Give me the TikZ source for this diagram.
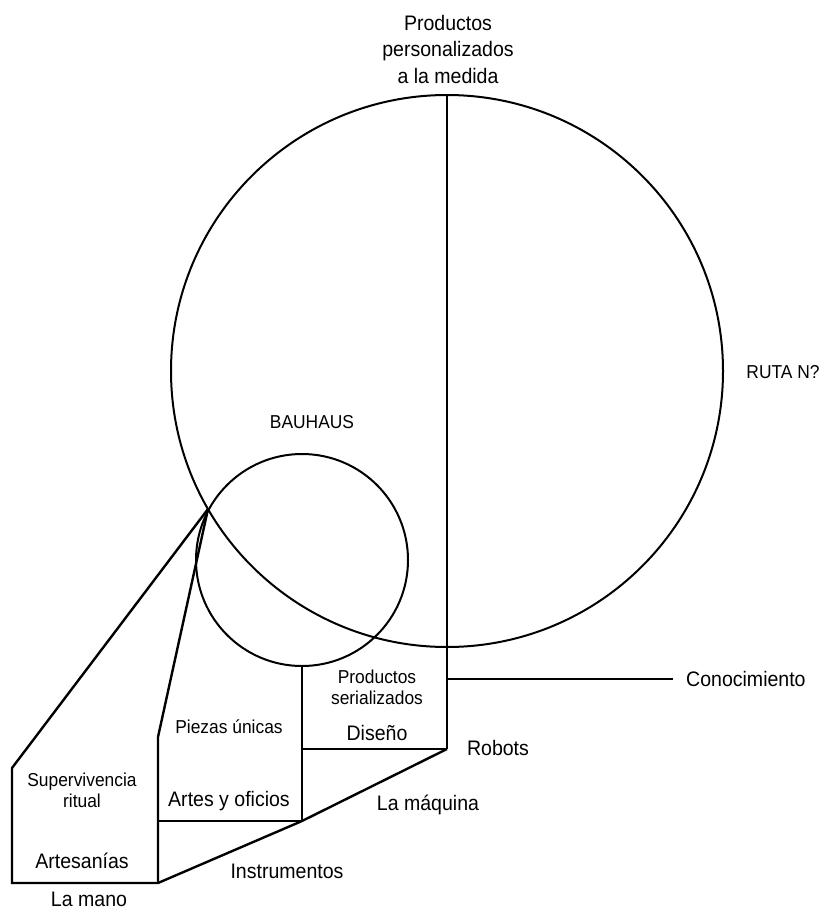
\documentclass[tikz,border=0pt]{standalone}
\usepackage{fontspec}
\setmainfont{Liberation Sans}[FakeStretch=0.93]
\usetikzlibrary{positioning}

\begin{document}
\begin{tikzpicture}[x=1pt,y=-1pt,line width=2.4pt,line join=miter,
  lbl/.style={inner sep=0pt,align=center,font=\fontsize{21}{26.5}\selectfont},
  lblsmall/.style={inner sep=0pt,align=center,font=\fontsize{18.7}{21}\selectfont},
  ring/.style={draw,circle,inner sep=0pt,outer sep=0pt,line width=2pt}]
  \useasboundingbox (0,0) rectangle (822,911);
  % the two circles
  \node[ring,minimum size=552pt] (ruta) at (447,371) {};
  \node[ring,minimum size=212pt] (bauhaus) at (302,560) {};
  % corners of the lower frame
  \node[coordinate] (cross) at (208,509) {};
  \node[coordinate] (ritualtop) at (12,768) {};
  \node[coordinate] (handL) at (12,883) {};
  \node[coordinate] (handR) at (158,883) {};
  \node[coordinate] (uniquetop) at (158,737) {};
  \node[coordinate] (craftL) at (158,821) {};
  \node[coordinate] (craftR) at (302,821) {};
  \node[coordinate] (designL) at (302,749) {};
  \node[coordinate] (robotcorner) at (447,749) {};
  \node[coordinate] (know) at (447,679) {};
  % labels
  \node[lbl] (medida) at (448,49) {Productos\\personalizados\\a la medida};
  \node[lblsmall] (bau) at (312,422) {BAUHAUS};
  \node[lblsmall] (rutan) at (783,372) {RUTA N?};
  \node[lbl,anchor=west] (cono) at (685,679) {Conocimiento};
  \node[coordinate,left=12pt of cono] (knowend) {};
  \node[lblsmall] (serial) at (377,687) {Productos\\serializados};
  \node[lbl] (diseno) at (377,733) {Diseño};
  \node[lbl] (robots) at (498,748) {Robots};
  \node[lblsmall] (piezas) at (229,727) {Piezas únicas};
  \node[lbl] (artes) at (229,801) {Artes y oficios};
  \node[lbl] (maquina) at (428,805) {La máquina};
  \node[lblsmall] (superv) at (82,790) {Supervivencia\\ritual};
  \node[lbl] (artesanias) at (82,861) {Artesanías};
  \node[lbl] (instr) at (287,871) {Instrumentos};
  \node[lbl] (lamano) at (89,899) {La mano};
  % lines
  \draw (ruta.north) -- (robotcorner);
  \draw (know) -- (knowend);
  \draw (bauhaus.south) -- (craftR);
  \draw (designL) -- (robotcorner);
  \draw (craftL) -- (craftR);
  \draw (cross) -- (ritualtop) -- (handL) -- (handR) -- (craftR) -- (robotcorner);
  \draw (cross) -- (uniquetop) -- (handR);
\end{tikzpicture}
\end{document}
